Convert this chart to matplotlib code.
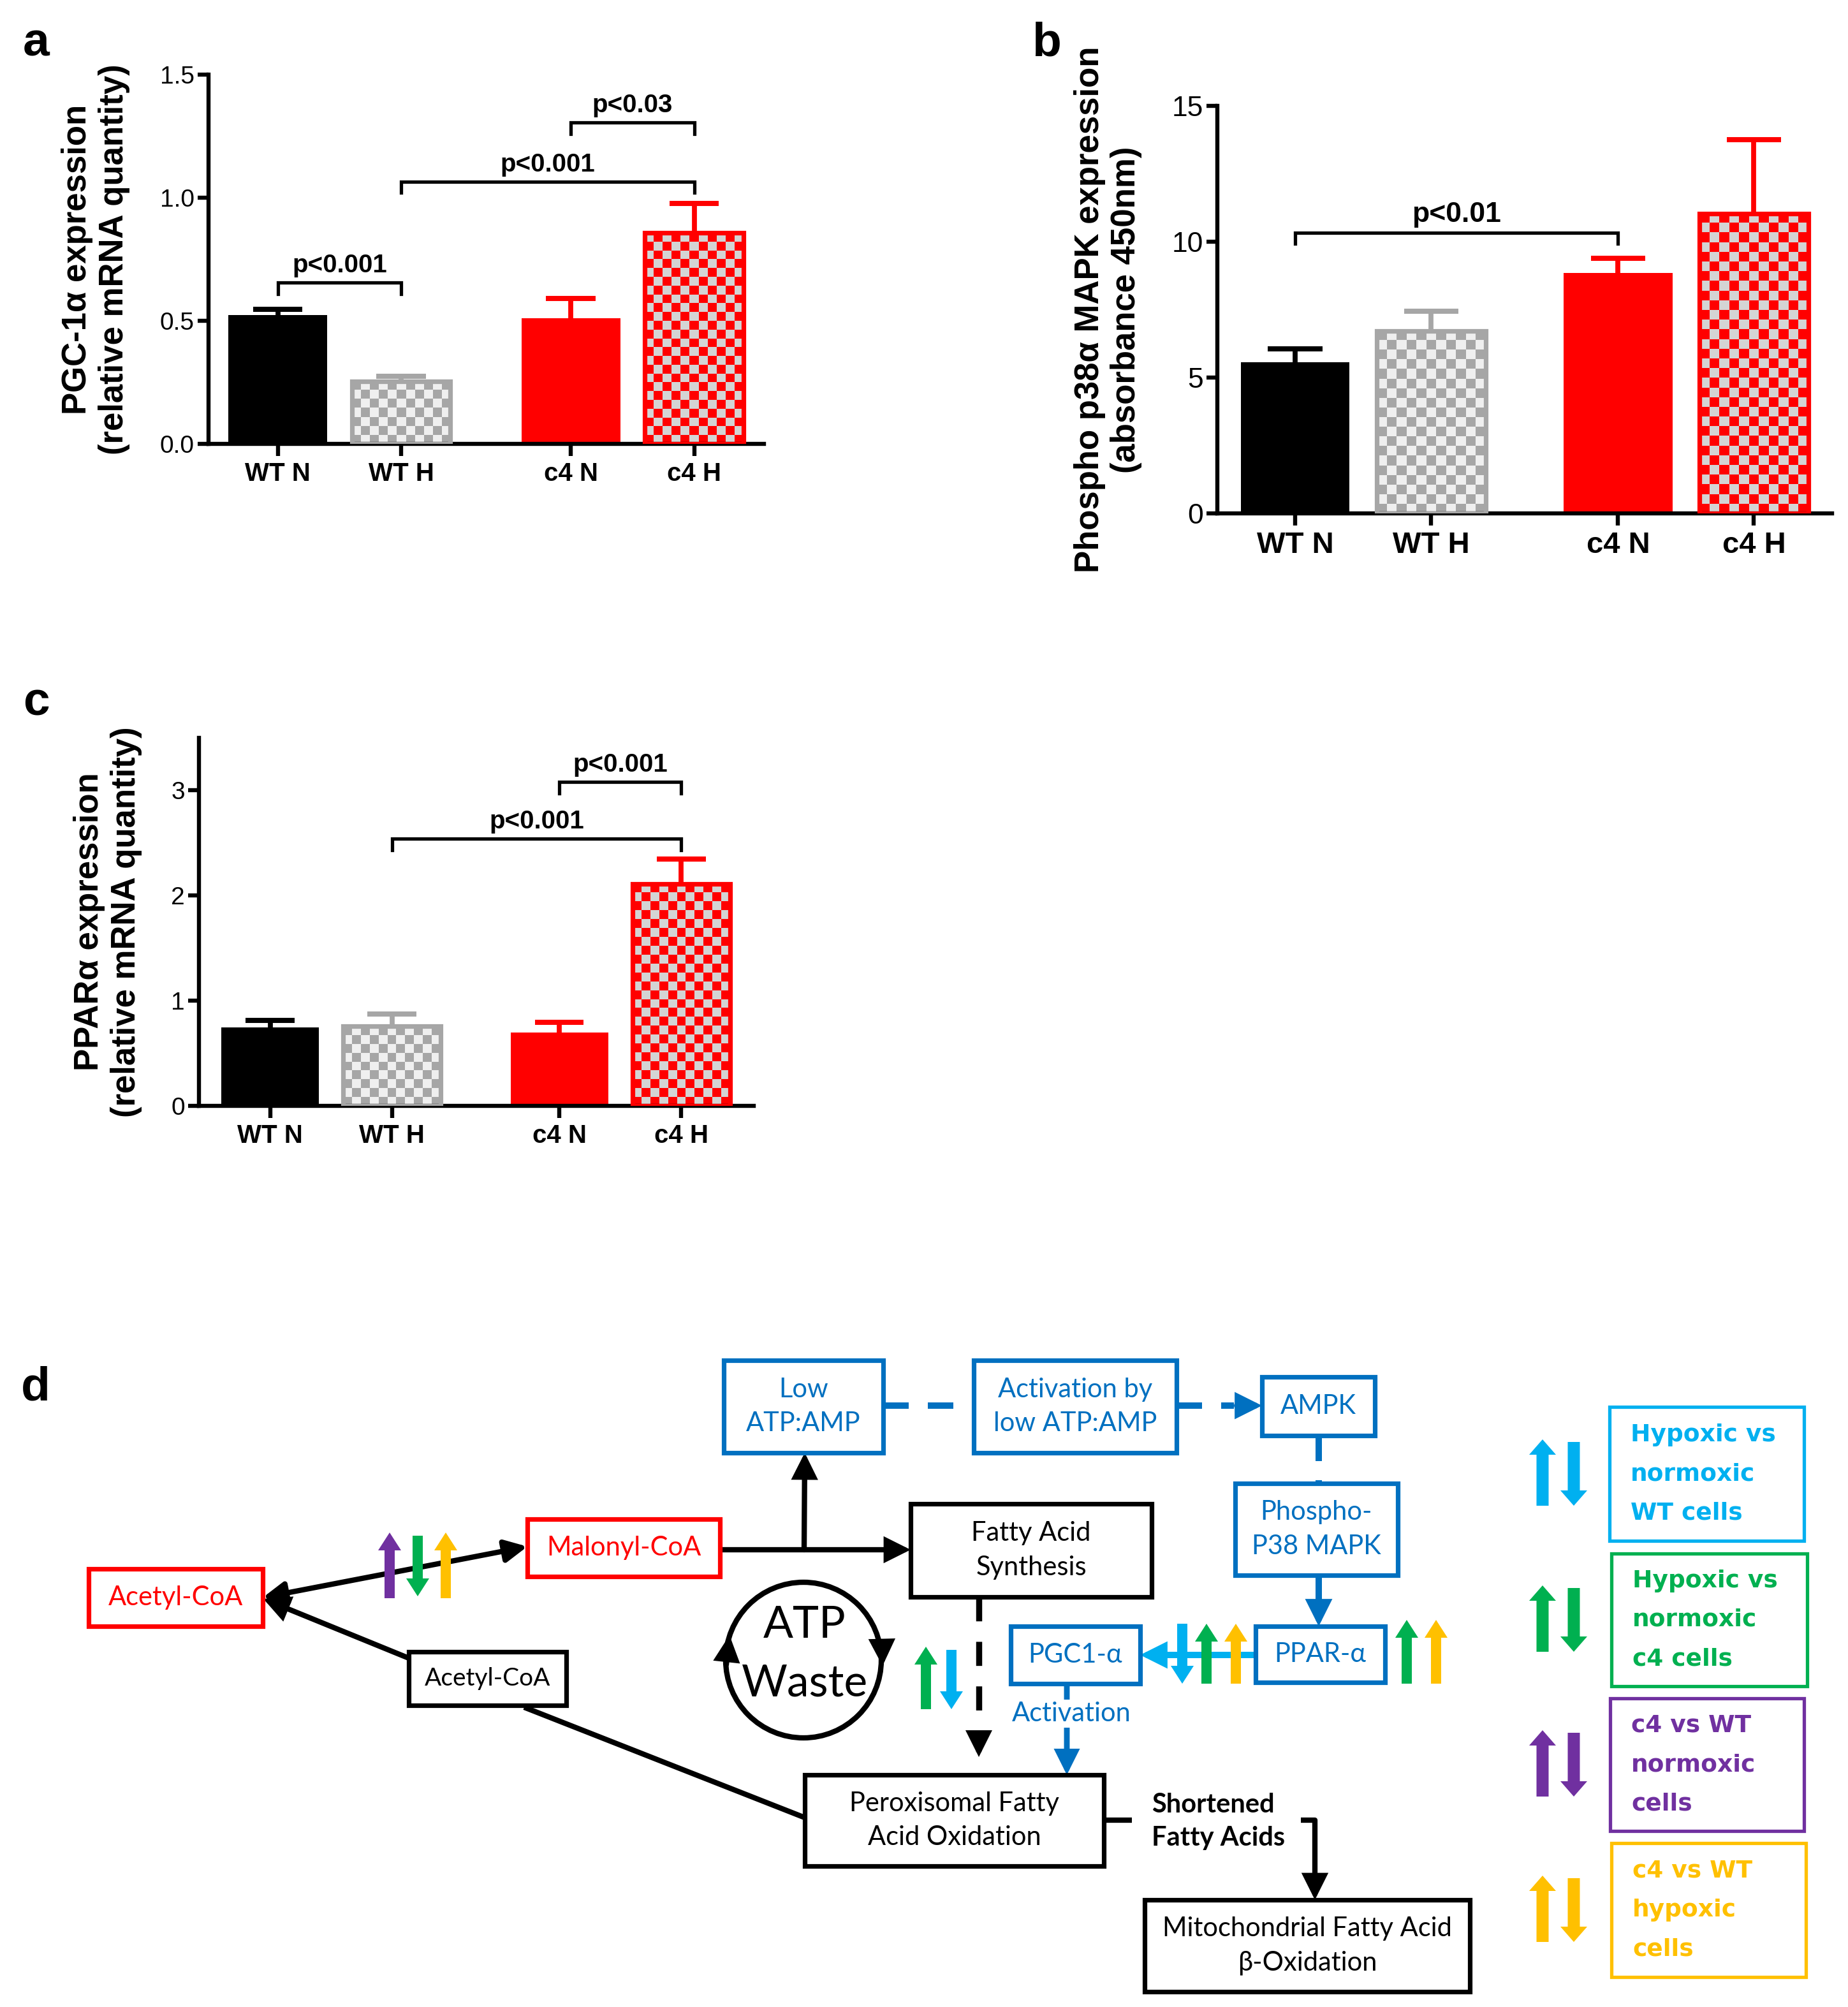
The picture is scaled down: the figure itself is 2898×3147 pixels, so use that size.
import numpy as np
import matplotlib
matplotlib.use('Agg')
import matplotlib.pyplot as plt
from matplotlib.colors import ListedColormap
from matplotlib.patches import Rectangle, Circle, FancyArrow

W, H = 2898, 3147
DPI = 200
fig = plt.figure(figsize=(W / DPI, H / DPI), dpi=DPI)
plt.rcParams['font.family'] = ['Liberation Sans', 'DejaVu Sans']

# ---------------- data ----------------
groups = ['WT N', 'WT H', 'c4 N', 'c4 H']
xpos = [0, 1, 2.375, 3.375]

pgc_mean = [0.523, 0.255, 0.51, 0.857]
pgc_err = [0.024, 0.02, 0.08, 0.119]
pgc_brackets = [(0, 1, 0.655, 'p<0.001'), (1, 3, 1.065, 'p<0.001'), (2, 3, 1.305, 'p<0.03')]
pgc_yticks = [0.0, 0.5, 1.0, 1.5]

p38_mean = [5.57, 6.72, 8.86, 11.04]
p38_err = [0.48, 0.72, 0.52, 2.71]
p38_brackets = [(0, 2, 10.32, 'p<0.01')]
p38_yticks = [0, 5, 10, 15]

ppar_mean = [0.748, 0.757, 0.698, 2.113]
ppar_err = [0.065, 0.118, 0.094, 0.237]
ppar_brackets = [(1, 3, 2.54, 'p<0.001'), (2, 3, 3.08, 'p<0.001')]
ppar_yticks = [0, 1, 2, 3]

BLUE = '#0070C0'
RED = '#FF0000'
CYAN = '#00B0F0'
GREEN = '#00B050'
PURPLE = '#7030A0'
YELLOW = '#FFC000'
GRAY = '#A6A6A6'

bar_styles = [('solid', 'black', None), ('check', GRAY, '#EFEFEF'),
              ('solid', RED, None), ('check', RED, '#D4D4D4')]

# ---------------- diagram axes (pixel coordinates) ----------------
dax = fig.add_axes([0, 0, 1, 1])
dax.set_xlim(0, W)
dax.set_ylim(H, 0)
dax.axis('off')


def bar_panel(rect, means, errs, brackets, yticks, ylim, yfmt, ylabel, xlim,
              fs_tick, fs_x, fs_lab, fs_p, drop, label_x, cell=14):
    l, t, r, b = rect
    ax = fig.add_axes([l / W, 1 - b / H, (r - l) / W, (b - t) / H])
    ax.set_xlim(*xlim)
    ax.set_ylim(*ylim)
    ppu_x = (r - l) / (xlim[1] - xlim[0])
    ppu_y = (b - t) / (ylim[1] - ylim[0])
    bw = 0.8
    for i, (x, m, e) in enumerate(zip(xpos, means, errs)):
        kind, c1, c2 = bar_styles[i]
        if kind == 'solid':
            ax.bar(x, m, width=bw, color=c1, edgecolor='none', zorder=2)
        else:
            nx = max(1, int(round(bw * ppu_x / cell)))
            ny = max(1, int(round(m * ppu_y / cell)))
            chk = (np.add.outer(np.arange(ny), np.arange(nx)) % 2).astype(float)
            ax.imshow(chk, cmap=ListedColormap([c1, c2]), extent=(x - bw / 2, x + bw / 2, 0, m),
                      aspect='auto', interpolation='nearest', zorder=2, origin='lower')
            ax.bar(x, m, width=bw, facecolor='none', edgecolor=c1, linewidth=2.6, zorder=3)
        ax.vlines(x, m, m + e, color=c1, linewidth=2.8, zorder=1)
        ax.hlines(m + e, x - 0.2, x + 0.2, color=c1, linewidth=2.9, zorder=1)
    ax.set_xlim(*xlim)
    ax.set_ylim(*ylim)
    for i, j, y, txt in brackets:
        ax.plot([xpos[i], xpos[i], xpos[j], xpos[j]], [y - drop, y, y, y - drop],
                color='black', linewidth=1.9, solid_joinstyle='miter', clip_on=False)
        ax.annotate(txt, ((xpos[i] + xpos[j]) / 2, y), xytext=(0, 3), textcoords='offset points',
                    ha='center', va='bottom', fontsize=fs_p, fontweight='bold')
    for s in ['top', 'right']:
        ax.spines[s].set_visible(False)
    for s in ['left', 'bottom']:
        ax.spines[s].set_linewidth(2.3)
    ax.set_yticks(yticks)
    ax.set_yticklabels([yfmt.format(v) for v in yticks], fontsize=fs_tick)
    ax.set_xticks(xpos)
    ax.set_xticklabels(groups, fontsize=fs_x, fontweight='bold')
    ax.tick_params(axis='y', length=6, width=2.3, pad=2)
    ax.tick_params(axis='x', length=7, width=2.3, pad=3)
    ax.set_ylabel(ylabel, fontsize=fs_lab, fontweight='bold')
    ax.yaxis.set_label_coords(label_x, 0.5)
    ax.patch.set_alpha(0)
    return ax


bar_panel((327, 117, 1198, 696), pgc_mean, pgc_err, pgc_brackets, pgc_yticks, (0, 1.5), '{:.1f}',
          'PGC-1α expression\n(relative mRNA quantity)', (-0.561, 3.94), 14, 14.5, 19, 14.5, 0.045, -0.141)
bar_panel((1909, 166, 2873, 805), p38_mean, p38_err, p38_brackets, p38_yticks, (0, 15), '{:d}',
          'Phospho p38α MAPK expression\n(absorbance 450nm)', (-0.573, 3.95), 16, 17, 19, 16, 0.38, -0.122, cell=15)
bar_panel((312, 1157, 1182, 1734), ppar_mean, ppar_err, ppar_brackets, ppar_yticks, (0, 3.5), '{:d}',
          'PPARα expression\n(relative mRNA quantity)', (-0.584, 3.97), 14, 14.5, 19, 14.5, 0.11, -0.102)

# panel letters
for letter, (lx, ly) in zip(['a', 'b', 'c', 'd'], [(36, 87), (1618, 87), (36, 1122), (33, 2195)]):
    dax.text(lx, ly, letter, fontsize=27, fontweight='bold', ha='left', va='baseline')

# ---------------- diagram ----------------
FD = ['Lato', 'DejaVu Sans']
boxes = [
    ((1135, 2133, 1385, 2278), BLUE, 'Low\nATP:AMP', BLUE, 15),
    ((1527, 2133, 1845, 2278), BLUE, 'Activation by\nlow ATP:AMP', BLUE, 15),
    ((1979, 2159, 2156, 2251), BLUE, 'AMPK', BLUE, 15),
    ((1937, 2326, 2192, 2470), BLUE, 'Phospho-\nP38 MAPK', BLUE, 15),
    ((1969, 2550, 2172, 2638), BLUE, 'PPAR-α', BLUE, 15),
    ((1585, 2550, 1788, 2640), BLUE, 'PGC1-α', BLUE, 15),
    ((1428, 2358, 1806, 2504), 'black', 'Fatty Acid\nSynthesis', 'black', 15),
    ((827, 2382, 1129, 2472), RED, 'Malonyl-CoA', RED, 15),
    ((139, 2460, 412, 2550), RED, 'Acetyl-CoA', RED, 15),
    ((641, 2590, 888, 2674), 'black', 'Acetyl-CoA', 'black', 14),
    ((1262, 2783, 1731, 2926), 'black', 'Peroxisomal Fatty\nAcid Oxidation', 'black', 15),
    ((1795, 2979, 2305, 3123), 'black', 'Mitochondrial Fatty Acid\nβ-Oxidation', 'black', 15),
]
for (x0, y0, x1, y1), ec, txt, tc, fs in boxes:
    dax.add_patch(Rectangle((x0, y0), x1 - x0, y1 - y0, facecolor='white', edgecolor=ec,
                            linewidth=2.6, zorder=3))
    dax.text((x0 + x1) / 2, (y0 + y1) / 2, txt, color=tc, fontsize=fs, family=FD,
             ha='center', va='center', zorder=4, linespacing=1.5)

LW = 3.0
MS = 26


def arrow(tail, tip, color='black', lw=LW, ms=MS):
    dax.annotate('', xy=tip, xytext=tail,
                 arrowprops=dict(arrowstyle='-|>', lw=lw, color=color, mutation_scale=ms,
                                 shrinkA=0, shrinkB=0, joinstyle='miter'), zorder=2)


def line(xs, ys, color='black', lw=LW, dashes=None):
    ln, = dax.plot(xs, ys, color=color, lw=lw, zorder=2, solid_capstyle='butt')
    if dashes:
        ln.set_dashes(dashes)
        ln.set_dash_capstyle('butt')


# acetyl <-> malonyl
dax.annotate('', xy=(827, 2425), xytext=(412, 2505),
             arrowprops=dict(arrowstyle='<|-|>', lw=LW, color='black', mutation_scale=MS,
                             shrinkA=0, shrinkB=0), zorder=2)
arrow((641, 2600), (413, 2507))
line([822, 1267], [2677, 2852])
arrow((1129, 2430), (1428, 2430))
arrow((1261, 2430), (1262, 2278))
# blue dashed chain
line([1385, 1527], [2204, 2204], BLUE, 3.6, (4, 3))
line([1845, 1935], [2204, 2204], BLUE, 3.6, (4, 3))
arrow((1940, 2204), (1979, 2204), BLUE, 3.6, 24)
line([2068, 2068], [2251, 2326], BLUE, 3.6, (4, 3))
arrow((2068, 2470), (2068, 2550), BLUE, 3.6, 24)
arrow((1969, 2595), (1788, 2595), CYAN, 3.6, 24)
# FAS -> peroxisomal dashed
line([1535, 1535], [2504, 2720], 'black', 3.4, (4, 3.4))
arrow((1535, 2722), (1535, 2755), 'black', 3.4, 24)
# PGC1 -> peroxisomal
arrow((1673, 2640), (1673, 2783), BLUE, 3.2, 24)
dax.text(1680, 2687, 'Activation', color=BLUE, fontsize=15, family=FD, ha='center', va='center',
         zorder=5, bbox=dict(facecolor='white', edgecolor='none', pad=1))
# shortened fatty acids
line([1731, 1775], [2854, 2854])
dax.text(1806, 2856, 'Shortened\nFatty Acids', fontsize=15, fontweight='bold', family=FD,
         ha='left', va='center', linespacing=1.45)
line([2040, 2062, 2062], [2854, 2854, 2945])
arrow((2062, 2940), (2062, 2979))

# ATP waste cycle
dax.add_patch(Circle((1260, 2603), 122, fill=False, lw=LW, edgecolor='black', zorder=2))
arrow((1139, 2610), (1144, 2564), 'black', LW, 26)
arrow((1383, 2574), (1384, 2612), 'black', LW, 26)
dax.text(1262, 2548, 'ATP', fontsize=25, family=FD, ha='center', va='center')
dax.text(1262, 2640, 'Waste', fontsize=25, family=FD, ha='center', va='center')


def block(x, y0, y1, color, shaft=16, hw=36, hl=28):
    dax.add_patch(FancyArrow(x, y0, 0, y1 - y0, width=shaft, head_width=hw, head_length=hl,
                             length_includes_head=True, color=color, lw=0, zorder=6))


# small indicator arrows (tail y, tip y)
block(611, 2506, 2403, PURPLE)
block(655, 2408, 2503, GREEN)
block(699, 2506, 2403, YELLOW)
block(1452, 2680, 2582, GREEN)
block(1492, 2587, 2680, CYAN)
block(1854, 2546, 2640, CYAN)
block(1892, 2640, 2546, GREEN)
block(1938, 2640, 2546, YELLOW)
block(2206, 2640, 2540, GREEN)
block(2252, 2640, 2540, YELLOW)

# legend
leg_boxes = [(2524, 2206, 2829, 2416), (2527, 2436, 2834, 2644),
             (2525, 2663, 2829, 2871), (2527, 2890, 2832, 3100)]
leg_text = ['Hypoxic vs\nnormoxic\nWT cells', 'Hypoxic vs\nnormoxic\nc4 cells',
            'c4 vs WT\nnormoxic\ncells', 'c4 vs WT\nhypoxic\ncells']
leg_colors = [CYAN, GREEN, PURPLE, YELLOW]
for (x0, y0, x1, y1), txt, c in zip(leg_boxes, leg_text, leg_colors):
    dax.add_patch(Rectangle((x0, y0), x1 - x0, y1 - y0, facecolor='none', edgecolor=c, lw=1.9))
    dax.text(x0 + 33, (y0 + y1) / 2, txt, color=c, fontsize=13.5, fontweight='bold',
             family=['DejaVu Sans'], ha='left', va='center', linespacing=1.9)
    ym = (y0 + y1) / 2
    block(2419, ym + 50, ym - 54, c, 19, 42, 24)
    block(2468, ym - 50, ym + 50, c, 19, 42, 24)

fig.savefig('out.png', dpi=DPI)
